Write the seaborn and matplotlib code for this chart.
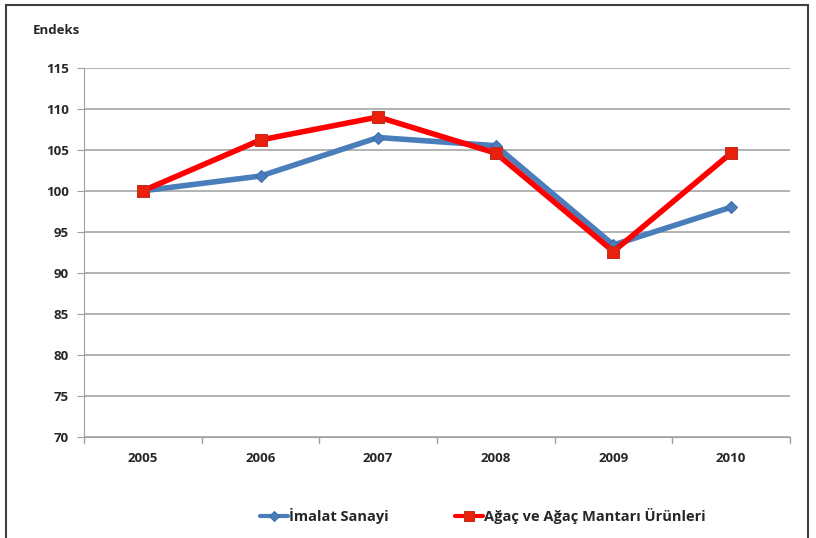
import pandas as pd
import matplotlib.pyplot as plt
import seaborn as sns
from matplotlib.patches import Rectangle

years = ['2005', '2006', '2007', '2008', '2009', '2010']
imalat = [100.0, 101.8, 106.5, 105.5, 93.4, 98.0]
agac = [100.0, 106.2, 109.0, 104.6, 92.6, 104.6]
y_ticks = [70, 75, 80, 85, 90, 95, 100, 105, 110, 115]

sns.set_style('white')
plt.rcParams['font.family'] = ['Open Sans', 'DejaVu Sans']
plt.rcParams['font.weight'] = 'bold'

df = pd.DataFrame({'pos': range(len(years)), 'imalat': imalat, 'agac': agac})

fig = plt.figure(figsize=(8.16, 5.38), dpi=100)
ax = fig.add_axes([0.103, 0.188, 0.865, 0.686])

sns.lineplot(data=df, x='pos', y='imalat', ax=ax, color='#4a7ebb', lw=4,
             marker='D', markersize=6, markeredgecolor='#3a6bb0',
             label='İmalat Sanayi')
sns.lineplot(data=df, x='pos', y='agac', ax=ax, color='#ff0000', lw=4,
             marker='s', markersize=9, markerfacecolor='#e8200c',
             markeredgecolor='#c03020', label='Ağaç ve Ağaç Mantarı Ürünleri')

ax.set_xlim(-0.5, len(years) - 0.5)
ax.set_ylim(70, 115)
ax.set_yticks(y_ticks)
ax.set_xticks(range(len(years)))
ax.set_xticklabels(years, fontweight='bold')
ax.set_yticklabels(y_ticks, fontweight='bold')
ax.tick_params(axis='x', length=0, pad=11, labelsize=9.5)
ax.tick_params(axis='y', length=5, color='#a0a0a0', pad=6, labelsize=9.5, left=True)
# category boundary ticks
for b in [i - 0.5 for i in range(len(years) + 1)]:
    ax.plot([b, b], [70, 69.3], color='#a0a0a0', lw=1, clip_on=False)
ax.grid(axis='y', color='#a6a6a6', lw=1.2)
ax.set_axisbelow(True)
for s in ['top', 'right']:
    ax.spines[s].set_visible(False)
ax.spines['left'].set_color('#a0a0a0')
ax.spines['bottom'].set_color('#a0a0a0')
ax.set_xlabel('')
ax.set_ylabel('')

fig.text(0.04, 0.943, 'Endeks', fontsize=9.5, fontweight='bold', va='center')

leg = ax.legend(loc='center', bbox_to_anchor=(0.565, -0.215), ncol=2, frameon=False,
                prop={'size': 10.5, 'weight': 'bold'}, columnspacing=4.6,
                handlelength=1.9, handletextpad=0.05, markerscale=0.8)
for line in leg.get_lines():
    line.set_linewidth(3)

fig.patches.append(Rectangle((0.007, -0.05), 0.983, 1.04, transform=fig.transFigure,
                             fill=False, edgecolor='#404040', lw=1.5))

fig.savefig('out.png', dpi=100)
